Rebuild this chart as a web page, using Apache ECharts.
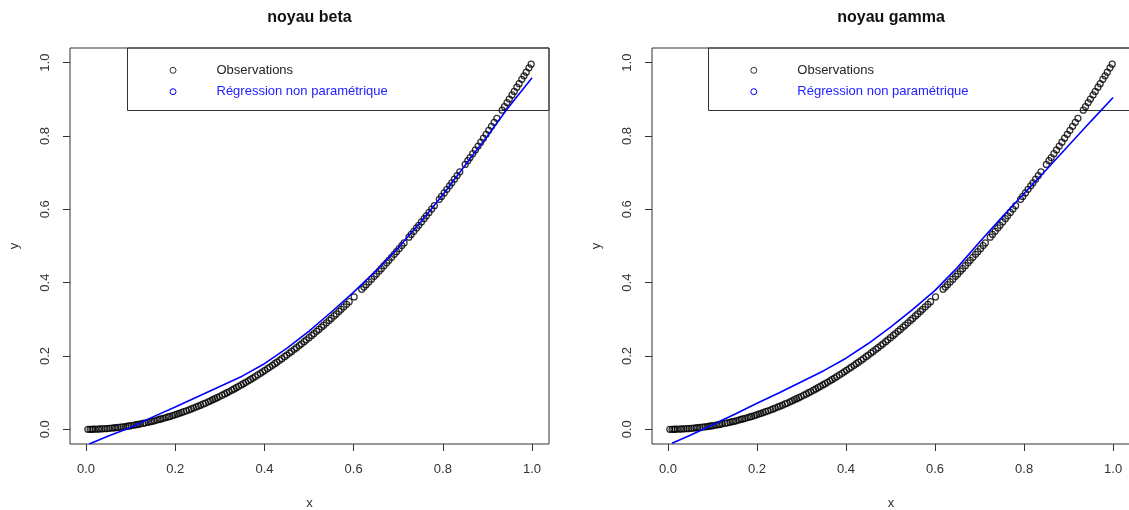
<!DOCTYPE html>
<html><head><meta charset="utf-8">
<script src="https://cdn.jsdelivr.net/npm/echarts@6/dist/echarts.min.js"></script>
<style>html,body{margin:0;padding:0;background:#fff}#c{width:1129px;height:510px}</style>
</head><body><div id="c"></div><script>
// Observations (same sample in both panels)
const obsX = [0.004,0.009,0.013,0.016,0.021,0.027,0.031,0.036,0.042,0.047,0.052,0.058,0.063,0.067,0.072,0.078,0.083,0.088,0.093,0.097,
0.102,0.108,0.113,0.117,0.122,0.128,0.133,0.139,0.144,0.148,0.153,0.159,0.164,0.168,0.173,0.179,0.184,0.188,0.194,0.199,
0.204,0.209,0.214,0.219,0.225,0.231,0.236,0.241,0.247,0.252,0.257,0.263,0.268,0.274,0.279,0.284,0.289,0.294,0.299,0.305,
0.311,0.316,0.321,0.327,0.332,0.337,0.342,0.348,0.353,0.358,0.364,0.369,0.374,0.379,0.385,0.391,0.396,0.401,0.407,0.412,
0.418,0.423,0.428,0.434,0.439,0.445,0.450,0.456,0.461,0.467,0.472,0.478,0.483,0.489,0.494,0.500,0.506,0.511,0.517,0.522,
0.528,0.533,0.539,0.545,0.550,0.556,0.561,0.567,0.572,0.578,0.584,0.590,0.601,0.618,0.623,0.628,0.634,0.640,0.646,0.651,
0.657,0.662,0.668,0.674,0.679,0.685,0.691,0.696,0.702,0.708,0.713,0.724,0.729,0.735,0.741,0.746,0.752,0.758,0.763,0.769,
0.775,0.781,0.792,0.797,0.803,0.809,0.815,0.820,0.826,0.832,0.838,0.850,0.856,0.861,0.867,0.873,0.879,0.885,0.891,0.897,
0.903,0.909,0.915,0.921,0.933,0.938,0.944,0.949,0.955,0.960,0.966,0.971,0.977,0.982,0.987,0.993,0.998];
const obsY = [0.0000,0.0001,0.0002,0.0003,0.0004,0.0007,0.0010,0.0013,0.0018,0.0022,0.0027,0.0034,0.0040,0.0045,0.0052,0.0061,0.0069,0.0077,0.0086,0.0094,
0.0104,0.0117,0.0128,0.0137,0.0149,0.0164,0.0177,0.0193,0.0207,0.0219,0.0234,0.0253,0.0269,0.0282,0.0299,0.0320,0.0339,0.0353,0.0376,0.0396,
0.0416,0.0437,0.0458,0.0480,0.0506,0.0534,0.0557,0.0581,0.0610,0.0635,0.0660,0.0692,0.0718,0.0751,0.0778,0.0807,0.0835,0.0864,0.0894,0.0930,
0.0967,0.0999,0.1030,0.1069,0.1102,0.1136,0.1170,0.1211,0.1246,0.1282,0.1325,0.1362,0.1399,0.1436,0.1482,0.1529,0.1568,0.1608,0.1656,0.1697,
0.1747,0.1789,0.1832,0.1884,0.1927,0.1980,0.2025,0.2079,0.2125,0.2181,0.2228,0.2285,0.2333,0.2391,0.2440,0.2500,0.2560,0.2611,0.2673,0.2725,
0.2788,0.2841,0.2905,0.2970,0.3025,0.3091,0.3147,0.3215,0.3272,0.3341,0.3411,0.3481,0.3612,0.3819,0.3881,0.3944,0.4020,0.4096,0.4173,0.4238,
0.4316,0.4382,0.4462,0.4543,0.4610,0.4692,0.4775,0.4844,0.4928,0.5013,0.5084,0.5242,0.5314,0.5402,0.5491,0.5565,0.5655,0.5746,0.5822,0.5914,
0.6006,0.6100,0.6273,0.6352,0.6448,0.6545,0.6642,0.6724,0.6823,0.6922,0.7022,0.7225,0.7327,0.7413,0.7517,0.7621,0.7726,0.7832,0.7939,0.8046,
0.8154,0.8263,0.8372,0.8482,0.8705,0.8798,0.8911,0.9006,0.9120,0.9216,0.9332,0.9428,0.9545,0.9643,0.9742,0.9860,0.9960];
// Non-parametric regression, beta kernel
const betaX = [0.007,0.05,0.1,0.112,0.15,0.2,0.25,0.3,0.35,0.4,0.45,0.5,0.55,0.6,0.65,0.7,0.75,0.8,0.85,0.9,0.942,1.0];
const betaY = [-0.04,-0.018,0.005,0.012,0.034,0.061,0.089,0.117,0.145,0.179,0.221,0.268,0.32,0.374,0.432,0.495,0.565,0.64,0.72,0.80,0.87,0.959];
// Non-parametric regression, gamma kernel
const gammaX = [0.009,0.05,0.1,0.12,0.15,0.2,0.25,0.3,0.35,0.4,0.45,0.5,0.55,0.6,0.65,0.7,0.75,0.8,0.85,0.9,0.95,1.0];
const gammaY = [-0.038,-0.016,0.012,0.024,0.041,0.071,0.100,0.130,0.160,0.194,0.234,0.279,0.327,0.379,0.441,0.511,0.578,0.643,0.708,0.774,0.84,0.905];
const tickVals = [0, 0.2, 0.4, 0.6, 0.8, 1.0];
const titles = ['noyau beta', 'noyau gamma'];
const legendNames = ['Observations', 'Régression non paramétrique'];

const FONT = "'Liberation Sans', Arial, sans-serif";
const TXT = '#333';
const grids = [
  {left: 70, top: 48, width: 479, height: 396},
  {left: 652, top: 48, width: 478, height: 396}
];
const zip = (a, b) => a.map((v, i) => [v, b[i]]);

function mkX(gi) {
  return {type: 'value', gridIndex: gi, min: -0.036, max: 1.038,
    axisLine: {show: false, onZero: false}, splitLine: {show: false},
    axisTick: {show: true, inside: false, length: 7, customValues: tickVals, lineStyle: {color: TXT, width: 1}},
    axisLabel: {customValues: tickVals, formatter: v => v.toFixed(1), margin: 19, fontSize: 13, color: TXT, fontFamily: FONT},
    name: 'x', nameLocation: 'middle', nameGap: 53, nameMoveOverlap: false,
    nameTextStyle: {fontSize: 13, color: TXT, fontFamily: FONT}};
}
function mkY(gi) {
  return {type: 'value', gridIndex: gi, min: -0.04, max: 1.04,
    axisLine: {show: false, onZero: false}, splitLine: {show: false},
    axisTick: {show: true, inside: false, length: 7, customValues: tickVals, lineStyle: {color: TXT, width: 1}},
    axisLabel: {customValues: tickVals, formatter: v => v.toFixed(1), rotate: 90, margin: 18, fontSize: 13, color: TXT, fontFamily: FONT},
    name: 'y', nameLocation: 'middle', nameGap: 49, nameMoveOverlap: false,
    nameTextStyle: {fontSize: 13, color: TXT, fontFamily: FONT}};
}
function mkLegend(left) {
  return {orient: 'vertical', left: left, top: 63.3, itemWidth: 77, itemHeight: 6, itemGap: 7.4,
    selectedMode: false, symbolKeepAspect: true, padding: 0,
    textStyle: {fontSize: 13, lineHeight: 14, fontFamily: FONT},
    data: [
      {name: legendNames[0], icon: 'circle', itemStyle: {color: 'rgba(0,0,0,0)', borderColor: '#000', borderWidth: 1}, textStyle: {color: '#222'}},
      {name: legendNames[1], icon: 'circle', itemStyle: {color: 'rgba(0,0,0,0)', borderColor: '#0000ff', borderWidth: 1}, textStyle: {color: '#2222ff'}}
    ]};
}
const series = [];
[[betaX, betaY], [gammaX, gammaY]].forEach((reg, gi) => {
  series.push({type: 'scatter', name: legendNames[0], xAxisIndex: gi, yAxisIndex: gi,
    data: zip(obsX, obsY), symbol: 'circle', symbolSize: 6, z: 2,
    itemStyle: {color: 'rgba(0,0,0,0)', borderColor: '#000', borderWidth: 1.25}, emphasis: {disabled: true}});
  series.push({type: 'line', name: legendNames[1], xAxisIndex: gi, yAxisIndex: gi,
    data: zip(reg[0], reg[1]), showSymbol: false, symbol: 'none', z: 3,
    lineStyle: {color: '#0000ff', width: 1.6}, itemStyle: {color: '#0000ff'}, emphasis: {disabled: true}});
});

const chart = echarts.init(document.getElementById('c'));
chart.setOption({
  animation: false,
  backgroundColor: '#fff',
  grid: grids.map(g => Object.assign({show: true, borderColor: TXT, borderWidth: 1, backgroundColor: 'rgba(0,0,0,0)', containLabel: false, outerBoundsMode: 'none'}, g)),
  xAxis: [mkX(0), mkX(1)],
  yAxis: [mkY(0), mkY(1)],
  legend: [mkLegend(169.5), mkLegend(750.3)],
  graphic: [
    {type: 'rect', shape: {x: 127.5, y: 48, width: 421.5, height: 62.5}, style: {fill: 'none', stroke: TXT, lineWidth: 1}, z: 1, silent: true},
    {type: 'rect', shape: {x: 708.5, y: 48, width: 421.5, height: 62.5}, style: {fill: 'none', stroke: TXT, lineWidth: 1}, z: 1, silent: true},
    {type: 'text', x: 309.5, y: 18, style: {text: titles[0], fill: '#111', font: "bold 16px 'Liberation Sans', Arial, sans-serif", align: 'center', verticalAlign: 'middle'}},
    {type: 'text', x: 891, y: 18, style: {text: titles[1], fill: '#111', font: "bold 16px 'Liberation Sans', Arial, sans-serif", align: 'center', verticalAlign: 'middle'}}
  ],
  series: series
});
</script></body></html>
